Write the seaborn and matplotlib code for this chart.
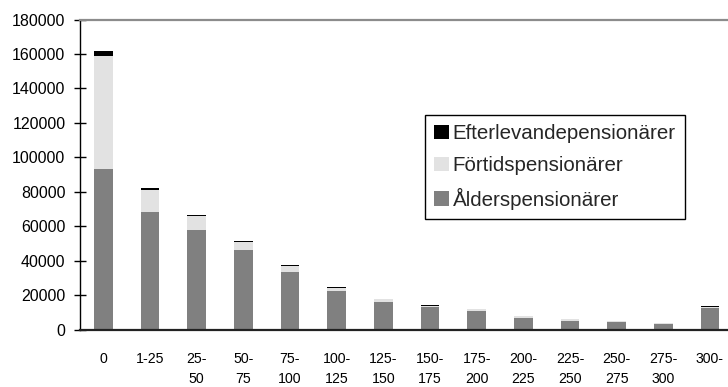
import numpy as np
import pandas as pd
import seaborn as sns
import matplotlib
matplotlib.use("Agg")
import matplotlib.pyplot as plt

# Income brackets (thousand SEK) and number of pensioners per group
categories = ["0", "1-25", "25-50", "50-75", "75-100", "100-125", "125-150",
              "150-175", "175-200", "200-225", "225-250", "250-275", "275-300", "300-"]
tick_labels = ["0", "1-25", "25-\n50", "50-\n75", "75-\n100", "100-\n125", "125-\n150",
               "150-\n175", "175-\n200", "200-\n225", "225-\n250", "250-\n275", "275-\n300", "300-"]
alder = [93100, 68100, 57700, 46000, 33300, 22400, 15850, 13100, 10800, 6600, 5000, 4300, 3100, 12400]
fortid = [65600, 12800, 8100, 4900, 3500, 1700, 1750, 400, 1000, 1100, 1100, 500, 700, 500]
efterlev = [2900, 1000, 600, 500, 600, 600, 0, 700, 0, 0, 0, 0, 0, 600]

df = pd.DataFrame({"grupp": categories, "alder": alder, "fortid": fortid, "efterlev": efterlev})

sns.set_theme(style="white")
plt.rcParams["font.family"] = ["Liberation Sans", "DejaVu Sans"]

fig = plt.figure(figsize=(7.28, 3.87), dpi=100)
ax = fig.add_axes([80 / 728, 1 - 329.5 / 387, 653.3 / 728, 310 / 387])

bar_w = 0.4
sns.barplot(data=df, x="grupp", y="alder", order=categories, color="#808080",
            width=bar_w, saturation=1, ax=ax, label="Ålderspensionärer", linewidth=0)
sns.barplot(data=df, x="grupp", y="fortid", order=categories, color="#e2e2e2",
            width=bar_w, saturation=1, ax=ax, label="Förtidspensionärer", linewidth=0,
            bottom=df["alder"].to_numpy())
sns.barplot(data=df, x="grupp", y="efterlev", order=categories, color="#000000",
            width=bar_w, saturation=1, ax=ax, label="Efterlevandepensionärer", linewidth=0,
            bottom=(df["alder"] + df["fortid"]).to_numpy())

ax.set_xlim(-0.5, len(categories) - 0.5)
ax.set_ylim(0, 180000)
ax.set_yticks(np.arange(0, 180001, 20000))
ax.set_yticklabels([str(v) for v in range(0, 180001, 20000)], fontsize=11.5)
ax.set_xticks(np.arange(len(categories)))
ax.set_xticklabels(tick_labels, fontsize=10.2, linespacing=1.6, va="top")
ax.set_xlabel("")
ax.set_ylabel("")

# Category boundary ticks on the x axis
ax.set_xticks(np.arange(len(categories)) - 0.5, minor=True)
ax.tick_params(axis="x", which="major", length=0, pad=16)
ax.tick_params(axis="x", which="minor", direction="inout", length=9, width=1, color="black")
ax.tick_params(axis="y", direction="inout", length=8, width=1, color="black", pad=6.5,
               left=True, labelcolor="black")
ax.tick_params(axis="x", labelcolor="black")

for side in ["left", "bottom"]:
    ax.spines[side].set_color("black")
ax.spines["left"].set_linewidth(1.0)
ax.spines["bottom"].set_linewidth(1.6)
ax.spines["bottom"].set_color("#222222")
ax.spines["top"].set_color("#8c8c8c")
ax.spines["top"].set_linewidth(1.6)
ax.spines["right"].set_visible(False)

handles, labels = ax.get_legend_handles_labels()
leg = ax.legend(handles[::-1], labels[::-1], loc="upper left",
                bbox_to_anchor=(425 / 728, 1 - 115 / 387), bbox_transform=fig.transFigure,
                fontsize=14.8, frameon=True, fancybox=False, framealpha=1,
                edgecolor="black", handlelength=0.7, handleheight=0.7,
                handletextpad=0.2, labelspacing=0.62, borderpad=0.45, borderaxespad=0)
leg.get_frame().set_linewidth(1.0)

fig.savefig("out.png", dpi=100)
